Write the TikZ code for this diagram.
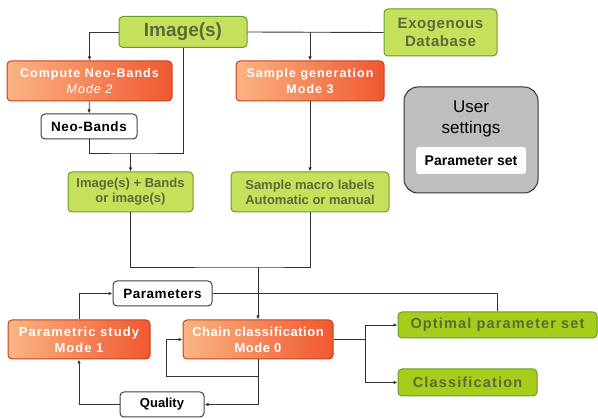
\documentclass[tikz,border=0pt]{standalone}
\usepackage{fontspec}
\setmainfont{Liberation Sans}
\newfontfamily\widefont[LetterSpace=8]{Liberation Sans}
\newfontfamily\midfont[LetterSpace=4]{Liberation Sans}
\usetikzlibrary{arrows.meta}
\definecolor{grnfill}{RGB}{198,224,92}
\definecolor{grndark}{RGB}{168,204,26}
\definecolor{grnline}{RGB}{96,160,44}
\definecolor{grntext}{RGB}{92,106,58}
\definecolor{orgleft}{RGB}{250,180,130}
\definecolor{orgright}{RGB}{240,88,48}
\definecolor{orgline}{RGB}{200,64,32}
\definecolor{usrfill}{RGB}{190,190,190}
\tikzset{box/.style={rounded corners=4pt, line width=1pt, align=center, inner sep=0pt},
  greenbox/.style={box, draw=grnline, fill=grnfill, text=grntext, font=\bfseries\fontsize{13}{15}\selectfont},
  orangebox/.style={box, draw=orgline, left color=orgleft, right color=orgright, text=white, font=\widefont\bfseries\fontsize{12.5}{15.5}\selectfont},
  whitebox/.style={box, draw=black!75, fill=white, text=black, font=\midfont\bfseries\fontsize{13.5}{16}\selectfont},
  link/.style={draw=black!80, line width=0.9pt},
  arr/.style={link, -{Latex[length=4pt,width=3.5pt]}}}

\begin{document}
\begin{tikzpicture}[x=1pt,y=-1pt]
   \useasboundingbox (0,0) rectangle (598,419);
   % sources
   \node[greenbox, minimum width=128pt, minimum height=31pt, font=\bfseries\fontsize{19}{22}\selectfont] (img) at (183,32) {Image(s)};
   \node[greenbox, minimum width=113pt, minimum height=47pt, font=\midfont\bfseries\fontsize{15}{17.5}\selectfont] (exo) at (440.5,32.5) {Exogenous\\Database};
   % modes 2 and 3
   \node[orangebox, minimum width=165pt, minimum height=40pt] (cnb) at (89.5,81) {Compute Neo-Bands\\{\itshape\mdseries Mode 2}};
   \node[orangebox, minimum width=148pt, minimum height=40pt] (sg) at (310,81) {Sample generation\\Mode 3};
   \node[whitebox, minimum width=96pt, minimum height=25pt] (nb) at (89,126.5) {Neo-Bands};
   \node[greenbox, minimum width=125pt, minimum height=40pt] (ib) at (130.5,192) {Image(s) + Bands\\or image(s)};
   \node[greenbox, minimum width=158pt, minimum height=40pt] (sml) at (310,192) {Sample macro labels\\Automatic or manual};
   % user settings
   \node[box, rounded corners=14pt, draw=black!80, fill=usrfill, minimum width=134pt, minimum height=106pt] (usr) at (471,140) {};
   \node[font=\fontsize{17}{21}\selectfont, align=center] (usrt) at (471,119) {User\\settings};
   \node[box, rounded corners=3pt, fill=white, minimum width=110pt, minimum height=27pt, font=\bfseries\fontsize{14}{16}\selectfont] (pset) at (471,160.5) {Parameter set};
   % modes 1 and 0
   \node[whitebox, minimum width=99pt, minimum height=25pt] (par) at (162.5,293.5) {Parameters};
   \node[orangebox, minimum width=142pt, minimum height=39pt, font=\widefont\bfseries\fontsize{13}{16}\selectfont] (ps) at (79,339.5) {Parametric study\\Mode 1};
   \node[orangebox, minimum width=150pt, minimum height=39pt, font=\midfont\bfseries\fontsize{13}{16}\selectfont] (cc) at (258,339.5) {Chain classification\\Mode 0};
   \node[whitebox, minimum width=84pt, minimum height=25pt, font=\bfseries\fontsize{13}{15}\selectfont] (q) at (162,404.5) {Quality};
   \node[greenbox, fill=grndark, minimum width=199pt, minimum height=26pt, font=\widefont\bfseries\fontsize{14.5}{17}\selectfont] (ops) at (497.5,325) {Optimal parameter set};
   \node[greenbox, fill=grndark, minimum width=139pt, minimum height=27pt, font=\widefont\bfseries\fontsize{14.5}{17}\selectfont] (cls) at (467.5,382.5) {Classification};
   % junctions
   \coordinate (j1) at (130.5,153);
   \coordinate (j2) at (258,267);
   \coordinate (j3) at (166,376);
   \coordinate (j4) at (365,339.5);
   % connectors
   \draw[arr] (img.west) -| (cnb.north);
   \draw[link] (img.east) -- (exo.west);
   \draw[arr] (sg.north |- img.east) -- (sg.north);
   \draw[arr] (cnb) -- (nb);
   \draw[link] (nb.south) |- (j1) -| (img.south);
   \draw[arr] (j1) -- (ib.north);
   \draw[arr] (sg) -- (sml);
   \draw[link] (ib.south) |- (j2) -| (sml.south);
   \draw[arr] (j2) -- (cc.north);
   \draw[arr] (ps.north) |- (par.west);
   \draw[link] (par.east) -| (ops.north);
   \draw[arr] (cc.south) |- (j3) |- (cc.west);
   \draw[arr] (cc.south) |- (q.east);
   \draw[arr] (q.west) -| (ps.south);
   \draw[link] (cc.east) -- (j4);
   \draw[arr] (j4) |- (ops.west);
   \draw[arr] (j4) |- (cls.west);
\end{tikzpicture}
\end{document}
